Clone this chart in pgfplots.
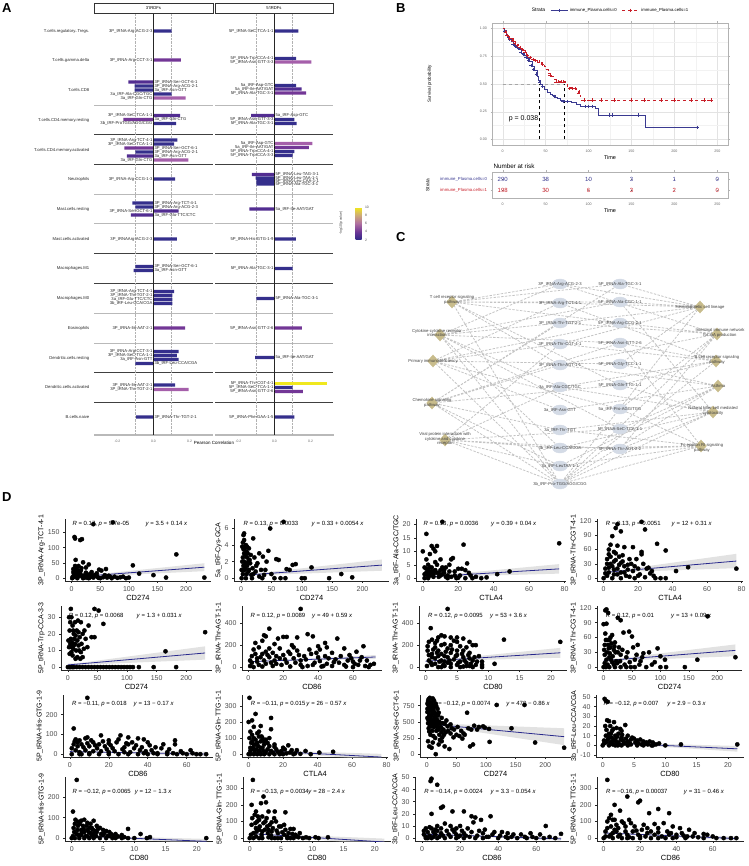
\documentclass[border=0pt]{standalone}
\usepackage{fontspec}
\setmainfont{Liberation Sans}
\usepackage{pgfplots}
\pgfplotsset{compat=1.18}

\definecolor{cA}{RGB}{53,47,140}
\definecolor{cB}{RGB}{82,45,145}
\definecolor{cC}{RGB}{115,55,150}
\definecolor{cD}{RGB}{165,95,170}
\definecolor{cE}{RGB}{240,232,30}
\definecolor{kmblue}{RGB}{58,58,145}
\definecolor{kmred}{RGB}{200,30,40}
\definecolor{fitblue}{RGB}{40,40,140}
\definecolor{nodeblue}{RGB}{212,219,230}
\definecolor{nodetan}{RGB}{200,188,140}
\definecolor{edgegray}{RGB}{196,196,196}

\newcommand{\fs}[2]{\fontsize{#1}{#2}\selectfont}

\pgfplotsset{
  every axis/.append style={/pgf/number format/assume math mode=true},
  facet/.style={
    scale only axis, anchor=north west, width=119pt, height=421pt,
    xmin=-0.33, xmax=0.33, ymin=-435, ymax=-14, clip=false,
    axis x line*=bottom, axis y line*=left,
    x axis line style={gray!55, line width=1.3pt},
    y axis line style={draw=none},
    xtick={-0.2,0,0.2},
    xticklabel style={font=\fs{3.4}{4}, text=black!60, /pgf/number format/.cd, fixed, fixed zerofill, precision=1},
    tick align=outside, major tick length=1.2pt,
    xtick style={gray!55, line width=0.4pt}, ytick style={draw=none},
  },
  bars/.style={xbar, bar width=3.4pt, bar shift=0pt, draw=none, fill=#1},
  lab/.style={only marks, mark=*, mark size=0.01pt, mark options={draw=none, fill=none},
    nodes near coords, point meta=explicit symbolic,
    every node near coord/.append style={anchor=#1, font=\fs{4.2}{5}, text=black!85, inner sep=0.8pt}},
  scat/.style={
    scale only axis, anchor=south west,
    axis x line*=bottom, axis y line*=left,
    axis line style={black!85, line width=0.5pt},
    tick align=outside, major tick length=2pt,
    tick style={black!85, line width=0.5pt},
    ticklabel style={font=\fs{7}{8}, text=black!70},
    xlabel style={font=\fs{7.5}{9}, yshift=3.5pt},
    ylabel style={font=\fs{7}{8}, yshift=-4pt},
  },
  pts/.style={only marks, mark=*, mark size=2.1pt, black},
  band/.style={fill=black!25, fill opacity=0.45, draw=none},
  fit/.style={no marks, fitblue, line width=0.8pt},
  net/.style={at={(300pt,-490pt)}, anchor=south west, scale only axis, width=448pt, height=260pt,
    xmin=300, xmax=748, ymin=-490, ymax=-230, hide axis, clip=false},
}
\tikzset{rtxt/.style={anchor=west, font=\fs{6}{7}, inner sep=0pt},
  nl/.style={font=\fs{4.2}{4.8}, text=black!75, align=center, inner sep=0pt}}

\begin{document}
\begin{tikzpicture}[x=1pt,y=1pt]
\useasboundingbox (0,0) rectangle (748,-866);

% ---------------- panel letters
\node[font=\fs{13}{14}\bfseries, anchor=north west, inner sep=0pt] at (2,-3) {A};
\node[font=\fs{13}{14}\bfseries, anchor=north west, inner sep=0pt] at (396,-3) {B};
\node[font=\fs{13}{14}\bfseries, anchor=north west, inner sep=0pt] at (396,-232) {C};
\node[font=\fs{13}{14}\bfseries, anchor=north west, inner sep=0pt] at (2,-492) {D};

% ================= A =================
\draw[black!80, line width=0.6pt] (94,-3) rectangle (213,-13);
\node[font=\fs{4.2}{5}] at (153.5,-8) {3\textquotesingle tRDFs};
\draw[black!80, line width=0.6pt] (215,-3) rectangle (333,-13);
\node[font=\fs{4.2}{5}] at (274,-8) {5\textquotesingle tRDFs};
\foreach \yy/\cc in {105/gray!55,134.5/black!75,164.5/black!75,194/gray!55,223.5/gray!55,253/black!75,283/black!75,313/gray!55,343/gray!55,372/black!75,402/black!75}{
  \draw[\cc, line width=0.7pt] (94,-\yy) -- (213,-\yy);
  \draw[\cc, line width=0.7pt] (215,-\yy) -- (333,-\yy);
}
\node[font=\fs{4.5}{5}] at (214,-443) {Pearson Correlation};

\begin{axis}[facet, at={(94pt,-14pt)},
  ytick={-31,-60,-90,-120,-150,-179,-209,-239,-268,-298,-328,-358,-387,-417},
  yticklabels={T.cells.regulatory..Tregs., T.cells.gamma.delta, T.cells.CD8, T.cells.CD4.memory.resting, T.cells.CD4.memory.activated, Neutrophils, Mast.cells.resting, Mast.cells.activated, Macrophages.M1, Macrophages.M0, Eosinophils, Dendritic.cells.resting, Dendritic.cells.activated, B.cells.naive},
  yticklabel style={font=\fs{4.2}{5}, text=black!85}]
\draw[gray!60, densely dotted, line width=0.4pt] (axis cs:-0.1,-14) -- (axis cs:-0.1,-435);
\draw[gray!60, densely dotted, line width=0.4pt] (axis cs:0.1,-14) -- (axis cs:0.1,-435);
\addplot[bars=cA] coordinates {(0.10,-31) (-0.105,-86) (-0.105,-90) (0.10,-94) (0.126,-123.5) (0.133,-140) (0.115,-144) (-0.10,-152) (0.12,-179) (-0.117,-203) (-0.10,-207) (0.13,-239) (-0.10,-266.5) (-0.11,-270.5) (0.115,-291.5) (0.105,-295.5) (0.105,-299.5) (0.105,-303.5) (0.14,-351.5) (0.13,-355.5) (0.14,-359.5) (-0.10,-363.5) (0.12,-385) (-0.097,-417)};
\addplot[bars=cB] coordinates {(-0.139,-82) (0.147,-115.5) (-0.148,-156) (0.139,-211) (-0.126,-215)};
\addplot[bars=cC] coordinates {(0.152,-60) (-0.167,-119.5) (-0.161,-148) (0.175,-328)};
\addplot[bars=cD] coordinates {(0.178,-98) (0.194,-160) (0.195,-389.5)};
\draw[black!85, line width=0.6pt] (axis cs:0,-14) -- (axis cs:0,-435);
\addplot[lab=east] coordinates {
 (0,-31) [3P\_tRNA-Arg-ACG-2-3] (0,-60) [3P\_tRNA-Arg-CCT-3-1]
 (0,-94) [3a\_tRF-Ala-CGC/TGC] (0,-98) [3a\_tRF-Gln-CTG]
 (0,-115.5) [3P\_tRNA-SeC-TCA-1-1] (0,-123.5) [3b\_tRF-ProTGG/AGG/CGG]
 (0,-140) [3P\_tRNA-Arg-TCT-4-1] (0,-144) [3P\_tRNA-SeC-TCA-1-1] (0,-160) [3a\_tRF-Gln-CTG]
 (0,-179) [3P\_tRNA-Arg-CCG-1-3] (0,-211) [3P\_tRNA-Ser-GCT-6-1] (0,-239) [3P\_tRNAArg-ACG-2-3]
 (0,-291.5) [3P\_tRNA-Arg-TCT-4-1] (0,-295.5) [3P\_tRNA-Thr-TGT-2-1] (0,-299.5) [3a\_tRF-Glu-TTC/CTC] (0,-303.5) [3b\_tRF-Leu-CCA/CGA]
 (0,-328) [3P\_tRNA-Ile-AAT-2-1]
 (0,-351.5) [3P\_tRNA-Arg-CCT-3-1] (0,-355.5) [3P\_tRNA-SeC-TCA-1-1] (0,-359.5) [3a\_tRF-Asn-GTT]
 (0,-385) [3P\_tRNA-Ile-AAT-2-1] (0,-389.5) [3P\_tRNA-Thr-TGT-2-1]};
\addplot[lab=west] coordinates {
 (0,-82) [3P\_tRNA-Ser-GCT-6-1] (0,-86) [3P\_tRNA-Arg-ACG-2-1] (0,-90) [3a\_tRF-Asn-GTT]
 (0,-119.5) [3a\_tRF-Gln-CTG]
 (0,-148) [3P\_tRNA-Ser-GCT-6-1] (0,-152) [3P\_tRNA-Arg-ACG-2-1] (0,-156) [3a\_tRF-Asn-GTT]
 (0,-203) [3P\_tRNA-Arg-TCT-4-1] (0,-207) [3P\_tRNA-Arg-ACG-2-3] (0,-215) [3a\_tRF-Glu-TTC/CTC]
 (0,-266.5) [3P\_tRNA-Ser-GCT-6-1] (0,-270.5) [3a\_tRF-Asn-GTT]
 (0,-363.5) [3b\_tRF-Leu-CCA/CGA] (0,-417) [3P\_tRNA-Thr-TGT-2-1]};
\end{axis}

\begin{axis}[facet, at={(215pt,-14pt)}, ytick=\empty]
\draw[gray!60, densely dotted, line width=0.4pt] (axis cs:-0.1,-14) -- (axis cs:-0.1,-435);
\draw[gray!60, densely dotted, line width=0.4pt] (axis cs:0.1,-14) -- (axis cs:0.1,-435);
\addplot[bars=cA] coordinates {(0.133,-31) (0.12,-58.5) (0.12,-85.5) (0.11,-119.5) (0.123,-123.5) (0.11,-151.5) (0.10,-155.5) (-0.105,-178) (-0.10,-181) (-0.10,-184) (0.118,-239) (0.10,-268.5) (-0.10,-298.5) (-0.107,-357.5) (0.10,-387.5) (0.11,-417)};
\addplot[bars=cB] coordinates {(0.15,-89) (-0.13,-115.5) (-0.125,-174.5) (-0.139,-209)};
\addplot[bars=cC] coordinates {(0.175,-93) (0.19,-147.5) (0.152,-328) (0.157,-391.5)};
\addplot[bars=cD] coordinates {(0.205,-62) (0.21,-143.5)};
\addplot[bars=cE] coordinates {(0.29,-383.5)};
\draw[black!85, line width=0.6pt] (axis cs:0,-14) -- (axis cs:0,-435);
\addplot[lab=east] coordinates {
 (0,-31) [5P\_tRNA-SeC-TCA-1-1] (0,-58.5) [5P\_tRNA-Trp-CCA-4-1] (0,-62) [5P\_tRNA-Asn-GTT-3-3]
 (0,-85.5) [5a\_tRF-Asp-GTC] (0,-89) [5a\_tRF-Ile-AAT/GAT] (0,-93) [5P\_tRNA-Ala-TGC-3-1]
 (0,-119.5) [5P\_tRNA-Asn-GTT-3-3] (0,-123.5) [5P\_tRNA-Ala-TGC-3-1]
 (0,-143.5) [5a\_tRF-Asp-GTC] (0,-147.5) [5a\_tRF-Ile-AAT/GAT] (0,-151.5) [5P\_tRNA-Trp-CCA-4-1] (0,-155.5) [5P\_tRNA-Trp-CCA-3-3]
 (0,-239) [5P\_tRNA-His-GTG-1-9] (0,-268.5) [5P\_tRNA-Ala-TGC-3-1] (0,-328) [5P\_tRNA-Asn-GTT-2-6]
 (0,-383.5) [5P\_tRNA-Thr-CGT-4-1] (0,-387.5) [5P\_tRNA-SeC-TCA-1-1] (0,-391.5) [5P\_tRNA-Asn-GTT-2-6]
 (0,-417) [5P\_tRNA-Phe-GAA-1-5]};
\addplot[lab=west] coordinates {
 (0,-115.5) [5a\_tRF-Asp-GTC]
 (0,-174.5) [5P\_tRNA-Leu-TAG-3-1] (0,-178) [5P\_tRNA-Leu-TAA-1-1] (0,-181) [5P\_tRNA-Leu-CAA-1-1] (0,-184) [5P\_tRNA-Ala-TGC-3-1]
 (0,-209) [5a\_tRF-Ile-AAT/GAT] (0,-298.5) [5P\_tRNA-Ala-TGC-3-1] (0,-357.5) [5a\_tRF-Ile-AAT/GAT]};
\end{axis}

% colour bar
\node[rotate=90, font=\fs{3.4}{4}, text=black!80] at (341,-223) {-log10(p value)};
\begin{axis}[at={(347pt,-207pt)}, anchor=north west, scale only axis, width=1pt, height=1pt, hide axis,
  xmin=0, xmax=1, ymin=0, ymax=1,
  colormap={pv}{rgb255=(45,40,135) rgb255=(110,55,150) rgb255=(175,110,160) rgb255=(205,170,120) rgb255=(242,234,25)},
  point meta min=2, point meta max=10, colorbar,
  colorbar style={at={(parent axis.north west)}, anchor=north west, width=6pt, height=33pt,
    ytick={2,4,6,8,10}, yticklabel style={font=\fs{3.4}{4}, text=black!70},
    major tick length=1pt, axis line style={draw=none}, tick style={draw=none}}]
\addplot[draw=none] coordinates {(0,0)};
\end{axis}

% ================= B =================
\begin{axis}[at={(492pt,-145pt)}, anchor=south west, scale only axis, width=236pt, height=122pt,
  xmin=-12.5, xmax=262.5, ymin=-0.05, ymax=1.05,
  xtick={0,50,100,150,200,250}, ytick={0,0.25,0.5,0.75,1},
  yticklabel style={/pgf/number format/.cd, fixed, fixed zerofill, precision=2},
  minor x tick num=1, minor y tick num=1, grid=both,
  major grid style={gray!22, line width=0.45pt}, minor grid style={gray!10, line width=0.3pt},
  axis line style={gray!60, line width=0.6pt}, tick style={gray!60}, tick align=outside,
  major tick length=1.5pt, minor tick length=0pt,
  ticklabel style={font=\fs{3.6}{4}, text=black!60},
  xlabel={Time}, xlabel style={font=\fs{5.5}{6}, yshift=4pt},
  ylabel={Survival probability}, ylabel style={font=\fs{4.5}{5}, at={(axis description cs:-0.24,0.5)}},
  legend style={at={(axis description cs:0.5,1)}, anchor=south, yshift=6pt, draw=none, fill=none,
    font=\fs{4.3}{5}, legend columns=-1, /tikz/every even column/.append style={column sep=3pt}}]
\addlegendimage{empty legend}\addlegendentry{\fs{5}{6}Strata}
\addlegendimage{kmblue, line width=0.7pt, mark=+, mark size=1.6pt}\addlegendentry{immune\_Plasma.cells=0}
\addlegendimage{kmred, dashed, line width=0.7pt, mark=+, mark size=1.6pt}\addlegendentry{immune\_Plasma.cells=1}
\addplot[gray!70, dashed, line width=0.6pt, forget plot] coordinates {(0,0.5) (72,0.5)};
\addplot[black, dashed, line width=0.5pt, forget plot] coordinates {(43,0) (43,0.5)};
\addplot[black, dashed, line width=0.5pt, forget plot] coordinates {(72,0) (72,0.5)};
\addplot[kmblue, const plot, line width=0.8pt, forget plot] coordinates {
 (0,1.00) (2,0.98) (4,0.95) (6,0.92) (8,0.90) (10,0.88) (13,0.85) (16,0.83) (19,0.81) (22,0.78)
 (25,0.76) (28,0.73) (31,0.70) (34,0.66) (37,0.62) (40,0.57) (42,0.53) (44,0.50) (46,0.48) (49,0.45)
 (52,0.42) (55,0.41) (58,0.40) (61,0.38) (64,0.37) (67,0.35) (72,0.34) (80,0.33) (86,0.32) (90,0.30)
 (108,0.28) (112,0.22) (166,0.11) (227,0.11)};
\addplot[kmred, const plot, dashed, line width=0.8pt, forget plot] coordinates {
 (0,1.00) (2,0.98) (4,0.96) (6,0.93) (9,0.91) (12,0.88) (15,0.86) (18,0.84) (21,0.82) (24,0.80)
 (27,0.77) (30,0.74) (35,0.72) (40,0.70) (45,0.68) (48,0.66) (50,0.63) (53,0.60) (56,0.57) (60,0.54)
 (63,0.52) (73,0.50) (75,0.47) (82,0.46) (86,0.44) (89,0.40) (91,0.355) (243,0.355)};
\addplot[kmblue, only marks, mark=+, mark size=1.6pt, line width=0.5pt, forget plot] coordinates {
 (2,0.98) (5,0.94) (8,0.90) (12,0.86) (15,0.84) (18,0.82) (21,0.79) (24,0.77) (27,0.74) (30,0.71)
 (33,0.67) (36,0.63) (39,0.59) (43,0.52) (46,0.48) (60,0.39) (70,0.345) (75,0.34) (96,0.30) (100,0.30)
 (104,0.30) (124,0.22) (128,0.22) (158,0.22) (227,0.11)};
\addplot[kmred, only marks, mark=+, mark size=1.6pt, line width=0.5pt, forget plot] coordinates {
 (3,0.97) (5,0.94) (8,0.91) (11,0.89) (14,0.87) (17,0.85) (20,0.83) (23,0.81) (26,0.79) (29,0.76)
 (32,0.74) (35,0.72) (38,0.71) (42,0.70) (46,0.68) (55,0.58) (62,0.52) (65,0.52) (68,0.52) (71,0.52)
 (78,0.46) (81,0.46) (84,0.46) (88,0.42) (95,0.355) (104,0.355) (115,0.355) (130,0.355) (150,0.355)
 (165,0.355) (185,0.355) (200,0.355) (220,0.355) (235,0.355) (243,0.355)};
\node[anchor=west, font=\fs{7}{8}] at (axis cs:3,0.19) {p = 0.038};
\end{axis}

\node[anchor=west, font=\fs{6.3}{7}] at (490,-166) {Number at risk};
\begin{axis}[at={(492pt,-198pt)}, anchor=south west, scale only axis, width=236pt, height=26pt,
  xmin=-12.5, xmax=262.5, ymin=0.32, ymax=2.68, clip=false,
  xtick={0,50,100,150,200,250}, ytick={1,2},
  yticklabels={\textcolor{kmred}{immune\_Plasma.cells=1}, \textcolor{kmblue}{immune\_Plasma.cells=0}},
  yticklabel style={font=\fs{4.3}{5}},
  axis line style={gray!60, line width=0.6pt}, tick style={gray!60}, tick align=outside, major tick length=1.5pt,
  xticklabel style={font=\fs{3.6}{4}, text=black!60},
  xlabel={Time}, xlabel style={font=\fs{5.5}{6}, yshift=4pt},
  ylabel={Strata}, ylabel style={font=\fs{4.8}{5}, at={(axis description cs:-0.25,0.5)}}]
\addplot[only marks, mark=*, mark size=0.01pt, mark options={draw=none, fill=none}, nodes near coords, point meta=explicit symbolic,
  every node near coord/.append style={anchor=center, font=\fs{6}{7}, text=kmblue}] coordinates {
  (0,2) [290] (50,2) [38] (100,2) [10] (150,2) [3] (200,2) [1] (250,2) [0]};
\addplot[only marks, mark=*, mark size=0.01pt, mark options={draw=none, fill=none}, nodes near coords, point meta=explicit symbolic,
  every node near coord/.append style={anchor=center, font=\fs{6}{7}, text=kmred}] coordinates {
  (0,1) [198] (50,1) [30] (100,1) [6] (150,1) [3] (200,1) [2] (250,1) [0]};
\end{axis}

% ================= C =================
\begin{axis}[net, unbounded coords=jump]
\addplot[edgegray, dash pattern=on 2.4pt off 1.4pt, line width=0.8pt] coordinates {
 (452,-302) (560,-284) (nan,nan) (452,-302) (560,-303) (nan,nan) (452,-302) (620,-284) (nan,nan) (452,-302) (620,-302) (nan,nan)
 (452,-302) (620,-323) (nan,nan) (452,-302) (560,-365) (nan,nan) (452,-302) (560,-484) (nan,nan) (452,-302) (620,-385) (nan,nan)
 (440,-335) (560,-284) (nan,nan) (440,-335) (560,-323) (nan,nan) (440,-335) (620,-302) (nan,nan) (440,-335) (620,-343) (nan,nan)
 (440,-335) (560,-387) (nan,nan) (440,-335) (560,-484) (nan,nan) (440,-335) (620,-429) (nan,nan) (440,-335) (560,-448) (nan,nan)
 (433,-361) (560,-303) (nan,nan) (433,-361) (560,-344) (nan,nan) (433,-361) (620,-323) (nan,nan) (433,-361) (620,-364) (nan,nan)
 (433,-361) (560,-410) (nan,nan) (433,-361) (560,-484) (nan,nan) (433,-361) (620,-409) (nan,nan)
 (432,-403) (560,-323) (nan,nan) (432,-403) (560,-365) (nan,nan) (432,-403) (620,-343) (nan,nan) (432,-403) (620,-385) (nan,nan)
 (432,-403) (560,-430) (nan,nan) (432,-403) (560,-484) (nan,nan) (432,-403) (560,-466) (nan,nan) (432,-403) (620,-284) (nan,nan)
 (445,-440) (560,-387) (nan,nan) (445,-440) (560,-448) (nan,nan) (445,-440) (560,-466) (nan,nan) (445,-440) (560,-484) (nan,nan)
 (445,-440) (620,-429) (nan,nan) (445,-440) (620,-449) (nan,nan) (445,-440) (560,-344) (nan,nan)
 (700,-307) (620,-284) (nan,nan) (700,-307) (620,-302) (nan,nan) (700,-307) (560,-284) (nan,nan) (700,-307) (560,-303) (nan,nan)
 (700,-307) (560,-344) (nan,nan) (700,-307) (560,-484) (nan,nan) (700,-307) (620,-364) (nan,nan) (700,-307) (560,-323) (nan,nan)
 (717,-334) (620,-323) (nan,nan) (717,-334) (560,-323) (nan,nan) (717,-334) (560,-365) (nan,nan) (717,-334) (560,-484) (nan,nan)
 (717,-334) (620,-409) (nan,nan) (717,-334) (560,-284) (nan,nan) (717,-334) (620,-449) (nan,nan)
 (716,-361) (620,-343) (nan,nan) (716,-361) (560,-344) (nan,nan) (716,-361) (560,-387) (nan,nan) (716,-361) (560,-484) (nan,nan)
 (716,-361) (620,-385) (nan,nan) (716,-361) (560,-303) (nan,nan)
 (718,-386) (620,-364) (nan,nan) (718,-386) (560,-365) (nan,nan) (718,-386) (560,-410) (nan,nan) (718,-386) (560,-484) (nan,nan)
 (718,-386) (620,-429) (nan,nan) (718,-386) (560,-466) (nan,nan)
 (713,-412) (620,-385) (nan,nan) (713,-412) (560,-387) (nan,nan) (713,-412) (560,-448) (nan,nan) (713,-412) (560,-484) (nan,nan)
 (713,-412) (620,-449) (nan,nan) (713,-412) (560,-430) (nan,nan) (713,-412) (620,-302) (nan,nan)
 (701,-446) (620,-409) (nan,nan) (701,-446) (560,-430) (nan,nan) (701,-446) (560,-466) (nan,nan) (701,-446) (560,-484) (nan,nan)
 (701,-446) (620,-449) (nan,nan) (701,-446) (560,-448) (nan,nan) (701,-446) (620,-343)};
\addplot[only marks, mark=*, mark size=5pt, mark options={xscale=1.5, fill=nodeblue, draw=nodeblue}] coordinates {
 (560,-284) (560,-303) (560,-323) (560,-344) (560,-365) (560,-387) (560,-410) (560,-430) (560,-448) (560,-466) (560,-484)
 (620,-284) (620,-302) (620,-323) (620,-343) (620,-364) (620,-385) (620,-409) (620,-429) (620,-449)};
\addplot[only marks, mark=diamond*, mark size=6pt, mark options={fill=nodetan, draw=nodetan, xscale=1.2}] coordinates {
 (452,-302) (440,-335) (433,-361) (432,-403) (445,-440)
 (700,-307) (717,-334) (716,-361) (718,-386) (713,-412) (701,-446)};
\end{axis}
% labels on top of the nodes
\begin{axis}[net]
\node[nl] at (axis cs:560,-284) {3P\_tRNA-Arg-ACG-2-3};
\node[nl] at (axis cs:560,-303) {3P\_tRNA-Arg-TCT-4-1};
\node[nl] at (axis cs:560,-323) {3P\_tRNA-Thr-TGT-2-1};
\node[nl] at (axis cs:560,-344) {3P\_tRNA-Thr-CGT-4-1};
\node[nl] at (axis cs:560,-365) {3P\_tRNA-Thr-AGT-1-1};
\node[nl] at (axis cs:560,-387) {3a\_tRF-Ala-CGC/TGC};
\node[nl] at (axis cs:560,-410) {3a\_tRF-Asn-GTT};
\node[nl] at (axis cs:560,-430) {3a\_tRF-Thr-TGT};
\node[nl] at (axis cs:560,-448) {3b\_tRF-Leu-CCA/CGA};
\node[nl] at (axis cs:560,-466) {3b\_tRF-LeuTAA-1-1};
\node[nl] at (axis cs:560,-484) {3b\_tRF-Pro-TGG/AGG/CGG};
\node[nl] at (axis cs:620,-284) {5P\_tRNA-Ala-TGC-3-1};
\node[nl] at (axis cs:620,-302) {5P\_tRNA-Ala-CGC-1-1};
\node[nl] at (axis cs:620,-323) {5P\_tRNA-Arg-CCG-2-1};
\node[nl] at (axis cs:620,-343) {5P\_tRNA-Asn-GTT-2-6};
\node[nl] at (axis cs:620,-364) {5P\_tRNA-Gly-TCC-1-1};
\node[nl] at (axis cs:620,-385) {5P\_tRNA-Gln-TTG-1-1};
\node[nl] at (axis cs:620,-409) {5a\_tRF-Pro-AGG/TGG};
\node[nl] at (axis cs:620,-429) {5P\_tRNA-SeC-TCA-1-1};
\node[nl] at (axis cs:620,-449) {5P\_tRNA-Thr-AGT-2-2};
\node[nl] at (axis cs:452,-300) {T cell receptor signaling\\pathway};
\node[nl] at (axis cs:437,-333) {Cytokine-cytokine receptor\\interaction};
\node[nl] at (axis cs:433,-361) {Primary immunodeficiency};
\node[nl] at (axis cs:432,-403) {Chemokine signaling\\pathway};
\node[nl] at (axis cs:445,-439) {Viral protein interaction with\\cytokine and cytokine\\receptor};
\node[nl] at (axis cs:700,-307) {Hematopoietic cell lineage};
\node[nl] at (axis cs:720,-333) {Intestinal immune network\\for IgA production};
\node[nl] at (axis cs:717,-360) {B cell receptor signaling\\pathway};
\node[nl] at (axis cs:718,-386) {Asthma};
\node[nl] at (axis cs:713,-411) {Natural killer cell mediated\\cytotoxicity};
\node[nl] at (axis cs:702,-448) {Fc epsilon RI signaling\\pathway};
\end{axis}

% ================= D =================
% row 1
\begin{axis}[scat, at={(65pt,-581pt)}, width=146pt, height=62pt, xmin=-11.6, xmax=243.6, ymin=-9.25, ymax=194,
  xtick={0,50,100,150,200}, ytick={0,50,100,150}, xlabel={CD274}, ylabel={3P\_tRNA-Arg-TCT-4-1}]
\addplot[pts] coordinates {(5,135)(6,130)(15,125)(18,128)(38,177)(72,183)(183,78)(107,42)(7,60)(20,52)(30,45)(12,40)(25,35)(9,30)(52,25)(60,30)(48,28)(3,20)(35,20)(15,15)(118,15)(143,10)(40,10)(65,8)(28,12)(20,8)(5,10)(10,5)(2,5)(45,5)(55,3)(75,5)(85,3)(90,5)(100,2)(1,0)(10,0)(20,0)(30,0)(50,0)(70,0)(95,0)(165,2)(232,2)(4,15)(8,22)(14,8)(25,18)(35,6)
 (3,3)(6,6)(9,12)(12,18)(16,25)(19,4)(22,2)(26,6)(32,3)(38,2)(42,8)(47,1)(58,10)(62,2)(68,4)(80,1)(3,30)(6,40)(11,24)(17,33)(23,9)(27,1)(33,14)(44,16)};
\addplot[band] coordinates {(0,0.5)(20,4.3)(232,23)(232,49)(20,8.3)(0,6.5)} -- cycle;
\addplot[fit] coordinates {(0,3.5)(232,35.98)};
\node[rtxt] at (rel axis cs:0.05,0.92) {\textit{R} = 0.17, \textit{p} = 9.7e-05};
\node[rtxt] at (rel axis cs:0.55,0.92) {\textit{y} = 3.5 + 0.14 \textit{x}};
\end{axis}

\begin{axis}[scat, at={(234pt,-581pt)}, width=155pt, height=62pt, xmin=-11.6, xmax=243.6, ymin=-0.34, ymax=7.14,
  xtick={0,50,100,150,200}, ytick={0,2,4,6}, xlabel={CD274}, ylabel={5a\_tRF-Cys-GCA}]
\addplot[pts] coordinates {(48,6.0)(70,6.8)(5,5.4)(4,5.2)(3,4.3)(8,4.0)(20,4.8)(13,3.6)(30,3.0)(45,3.3)(36,2.6)(58,2.3)(62,2.2)(85,1.6)(90,1.7)(75,1.1)(80,1.0)(116,1.3)(165,0.5)(183,0.1)(145,0)(100,0)(105,0)(65,0)(50,0.5)(40,1.0)(25,1.5)(10,2.5)(15,1.8)(5,3.0)(2,2.0)(7,1.2)(12,0.8)(20,0.5)(30,0.2)(3,0.5)(1,0)(8,0)(18,0)(35,0)(55,0)(73,0)(6,3.6)(9,3.2)(2,3.8)(14,2.2)(4,1.5)
 (1,1)(2,1)(3,2.5)(4,3.5)(5,2)(6,1)(7,2.8)(8,1.8)(9,0.5)(10,1.5)(11,3)(12,2)(13,1)(16,2.8)(17,0.4)(19,1.2)(22,2.5)(24,0.8)(27,1.8)(33,1)(38,0.4)(42,2)(5,4.6)(10,3.8)};
\addplot[band] coordinates {(0,0.18)(20,0.34)(232,0.9)(232,2.26)(20,0.54)(0,0.48)} -- cycle;
\addplot[fit] coordinates {(0,0.33)(232,1.58)};
\node[rtxt] at (rel axis cs:0.06,0.92) {\textit{R} = 0.13, \textit{p} = 0.0033};
\node[rtxt] at (rel axis cs:0.50,0.92) {\textit{y} = 0.33 + 0.0054 \textit{x}};
\end{axis}

\begin{axis}[scat, at={(416pt,-581pt)}, width=150pt, height=62pt, xmin=-3.85, xmax=80.85, ymin=-1.05, ymax=22.05,
  xtick={0,20,40,60,80}, ytick={0,5,10,15,20}, xlabel={CTLA4}, ylabel={3a\_tRF-Ala-CGC/TGC}]
\addplot[pts] coordinates {(0,10)(2,16.5)(11,21)(77,13)(23,12.5)(5,12)(8,12)(6,11)(7,10)(4,9)(10,7)(17,7.5)(16,7)(25,5.5)(3,5)(5,4)(8,5)(12,3)(15,2.5)(20,3.5)(22,3.5)(26,2)(42,1.5)(49,2.5)(36,0.3)(30,0.5)(2,2)(4,1)(6,0.5)(10,1)(18,1)(28,0)(33,0)(1,0)(14,0)(3,3)(9,2)(13,0.5)(20,0.2)(24,0)(6,2.5)(11,4)(7,6)(1,4)
 (1,1.5)(2,3.5)(3,1)(4,2)(4,4)(5,2.5)(6,1.5)(7,3)(8,2)(9,0.5)(10,3)(11,1.5)(12,2)(13,4)(14,1)(15,5)(16,0.5)(18,2.5)(19,0)(21,1)(24,3)(27,1)(2,7)(3,0)};
\addplot[band] coordinates {(0,0.0)(7,0.42)(77,1.7)(77,5.25)(7,0.92)(0,0.8)} -- cycle;
\addplot[fit] coordinates {(0,0.39)(77,3.47)};
\node[rtxt] at (rel axis cs:0.05,0.92) {\textit{R} = 0.13, \textit{p} = 0.0036};
\node[rtxt] at (rel axis cs:0.50,0.92) {\textit{y} = 0.39 + 0.04 \textit{x}};
\end{axis}

\begin{axis}[scat, at={(597pt,-581pt)}, width=146pt, height=62pt, xmin=-3.85, xmax=80.85, ymin=-5.9, ymax=123.9,
  xtick={0,20,40,60,80}, ytick={0,30,60,90,120}, xlabel={CTLA4}, ylabel={3P\_tRNA-Thr-CGT-4-1}]
\addplot[pts] coordinates {(22,118)(8,113)(7,105)(24,102)(10,98)(5,88)(31,72)(36,58)(4,70)(8,68)(12,65)(17,65)(22,55)(22,50)(6,55)(3,50)(9,45)(15,40)(2,40)(4,30)(10,32)(14,28)(18,25)(25,20)(28,15)(26,22)(42,15)(49,23)(77,20)(30,0)(33,0)(36,0)(20,5)(12,12)(6,18)(1,10)(2,5)(8,8)(15,3)(24,2)(0,0)(5,0)(10,0)(18,0)(6,35)(11,48)(3,22)
 (1,20)(2,30)(3,12)(4,45)(5,25)(6,8)(7,38)(8,20)(9,28)(10,12)(11,35)(12,25)(13,5)(14,18)(16,30)(17,15)(19,40)(20,20)(21,8)(23,30)(27,10)(29,5)(3,60)(7,52)};
\addplot[band] coordinates {(0,9)(8,12.5)(77,21)(77,51)(8,16.5)(0,15)} -- cycle;
\addplot[fit] coordinates {(0,12)(77,35.87)};
\node[rtxt] at (rel axis cs:0.06,0.92) {\textit{R} = 0.13, \textit{p} = 0.0051};
\node[rtxt] at (rel axis cs:0.51,0.92) {\textit{y} = 12 + 0.31 \textit{x}};
\end{axis}

% row 2
\begin{axis}[scat, at={(61pt,-670pt)}, width=151pt, height=64pt, xmin=-11.6, xmax=243.6, ymin=-1.75, ymax=36.75,
  xtick={0,50,100,150,200}, ytick={0,10,20,30}, xlabel={CD274}, ylabel={5P\_tRNA-Trp-CCA-3-3}]
\addplot[pts] coordinates {(5,35)(45,35)(52,34)(60,26)(35,25)(17,28)(12,27)(4,27)(22,27)(8,25)(3,22)(15,22)(25,20)(10,20)(20,18)(30,17)(40,18)(45,18)(5,17)(7,15)(12,14)(18,13)(2,12)(9,11)(14,10)(22,9)(3,8)(8,7)(16,6)(25,6)(165,9.5)(232,21)(0,0)(10,0)(30,0)(60,0)(90,0)(100,0)(110,0)(145,0)(183,0)(20,0)(45,0)(75,0)(6,12)(11,17)(18,21)
 (2,30)(6,30)(9,22)(13,19)(16,16)(19,10)(23,14)(27,11)(1,16)(4,14)(6,9)(10,13)(13,5)(21,5)(28,22)(33,12)(5,0)(15,0)(25,0)(35,0)(40,0)(50,0)(55,0)(65,0)(70,0)(80,0)(85,0)(95,0)(105,0)(120,0)(3,0)(8,0)};
\addplot[band] coordinates {(0,0.5)(20,1.3)(232,4.5)(232,12.5)(20,2.5)(0,2.1)} -- cycle;
\addplot[fit] coordinates {(0,1.3)(232,8.49)};
\node[rtxt] at (rel axis cs:0.05,0.85) {\textit{R} = 0.12, \textit{p} = 0.0068};
\node[rtxt] at (rel axis cs:0.50,0.85) {\textit{y} = 1.3 + 0.031 \textit{x}};
\end{axis}

\begin{axis}[scat, at={(242pt,-670pt)}, width=140pt, height=64pt, xmin=-3.65, xmax=76.65, ymin=-26.5, ymax=556.5,
  xtick={0,20,40,60}, ytick={0,200,400}, xlabel={CD86}, ylabel={3P\_tRNA-Thr-AGT-1-1}]
\addplot[pts] coordinates {(30,530)(12,350)(9,290)(10,280)(20,275)(22,275)(17,260)(34,300)(37,280)(28,270)(51,260)(44,220)(8,240)(4,220)(15,210)(25,200)(40,190)(45,180)(55,170)(66,190)(62,140)(6,180)(3,160)(18,170)(28,150)(35,160)(48,130)(58,110)(68,60)(70,20)(2,100)(8,120)(12,90)(20,110)(26,80)(32,100)(40,90)(50,70)(60,50)(65,90)(5,50)(10,30)(15,60)(22,40)(30,20)(38,40)(45,30)(55,20)(1,10)(3,0)(8,5)(14,10)(24,5)(42,5)(60,0)(67,10)(72,30)(10,140)(14,130)(24,120)(30,60)(36,120)(44,100)(52,40)(5,80)(18,80)(16,30)(34,10)(48,10)(57,60)(63,20)
 (2,40)(4,120)(6,20)(7,90)(9,60)(11,110)(13,40)(16,100)(19,20)(21,70)(23,140)(27,40)(29,110)(31,0)(33,70)(37,20)(39,130)(41,55)(43,10)(46,80)(49,45)(53,100)(56,5)(59,80)(61,30)(64,60)(69,0)(1,60)(12,170)(26,180)(41,160)};
\addplot[band] coordinates {(0,43)(15,53)(73,74)(73,110)(15,61)(0,55)} -- cycle;
\addplot[fit] coordinates {(0,49)(73,92.07)};
\node[rtxt] at (rel axis cs:0.06,0.85) {\textit{R} = 0.12, \textit{p} = 0.0089};
\node[rtxt] at (rel axis cs:0.50,0.85) {\textit{y} = 49 + 0.59 \textit{x}};
\end{axis}

\begin{axis}[scat, at={(419pt,-670pt)}, width=148pt, height=64pt, xmin=-1.075, xmax=22.575, ymin=-26.5, ymax=556.5,
  xtick={0,5,10,15,20}, ytick={0,200,400}, xlabel={CD80}, ylabel={3P\_tRNA-Thr-AGT-1-1}]
\addplot[pts] coordinates {(3.5,530)(0.8,355)(1,250)(2,270)(2.5,290)(3,280)(4,270)(5,270)(6,260)(4.5,240)(1.5,220)(0.5,230)(7,230)(7.5,200)(8,200)(6.5,180)(5.5,190)(12.5,250)(21.5,230)(11,30)(9,0)(9,20)(9,50)(8.5,100)(0.3,150)(1,120)(2,150)(3,100)(4,130)(5,110)(6,90)(7,80)(0.5,60)(1.5,80)(2.5,60)(3.5,40)(4.5,70)(5.5,50)(6.5,40)(7.5,60)(0.2,10)(1,20)(2,0)(3,10)(4,0)(5,20)(6,5)(7,10)(8,20)(1.5,180)(2.5,200)(3.5,170)(4,200)(5,150)(6,150)(7,130)(2,100)(3,50)(4,30)(1,90)
 (0.5,110)(0.8,40)(1.2,160)(1.5,30)(1.8,130)(2.2,50)(2.5,120)(2.8,20)(3.2,140)(3.5,90)(3.8,60)(4.2,160)(4.8,100)(5.2,40)(5.8,120)(6.2,60)(6.8,110)(7.2,30)(7.8,90)(8.2,50)(0.3,190)(1.8,240)(3,210)(5,230)(6.5,10)(2.5,0)(5.5,0)(7.5,0)};
\addplot[band] coordinates {(0,45)(2,55)(21.5,85)(21.5,175)(2,65)(0,61)} -- cycle;
\addplot[fit] coordinates {(0,53)(21.5,130.4)};
\node[rtxt] at (rel axis cs:0.06,0.85) {\textit{R} = 0.12, \textit{p} = 0.0095};
\node[rtxt] at (rel axis cs:0.48,0.85) {\textit{y} = 53 + 3.6 \textit{x}};
\end{axis}

\begin{axis}[scat, at={(597pt,-670pt)}, width=145pt, height=64pt, xmin=-11.6, xmax=243.6, ymin=-5.9, ymax=123.9,
  xtick={0,50,100,150,200}, ytick={0,30,60,90,120}, xlabel={CD274}, ylabel={3P\_tRNA-Thr-CGT-4-1}]
\addplot[pts] coordinates {(3,115)(5,117)(8,110)(25,100)(30,95)(183,103)(45,72)(35,70)(5,88)(0,87)(15,65)(10,55)(20,50)(50,62)(60,45)(70,28)(80,30)(95,38)(100,22)(108,15)(3,68)(8,45)(12,40)(18,35)(25,30)(30,25)(40,20)(55,15)(65,12)(90,10)(2,25)(5,15)(10,20)(15,10)(22,12)(110,0)(143,0)(165,15)(232,20)(100,0)(75,0)(40,0)(20,0)(0,0)(55,0)(85,5)(6,55)(12,60)(2,45)
 (1,35)(2,8)(4,55)(6,30)(7,5)(9,38)(11,28)(13,15)(14,48)(16,22)(18,5)(19,42)(21,30)(24,8)(27,40)(29,12)(33,35)(37,5)(42,30)(46,10)(52,40)(58,25)(63,5)(68,20)(4,0)(10,0)(30,0)(48,0)};
\addplot[band] coordinates {(0,10)(20,12.8)(232,22)(232,46)(20,16.8)(0,16)} -- cycle;
\addplot[fit] coordinates {(0,13)(232,33.88)};
\node[rtxt] at (rel axis cs:0.06,0.85) {\textit{R} = 0.12, \textit{p} = 0.01};
\node[rtxt] at (rel axis cs:0.51,0.85) {\textit{y} = 13 + 0.09 \textit{x}};
\end{axis}

% row 3
\begin{axis}[scat, at={(63pt,-757pt)}, width=150pt, height=62pt, xmin=-3.5, xmax=73.5, ymin=-14.25, ymax=299.25,
  xtick={0,20,40,60}, ytick={0,100,200,300}, xlabel={CD86}, ylabel={5P\_tRNA-His-GTG-1-9}]
\addplot[pts] coordinates {(9,285)(2,130)(3,75)(2.5,65)(5,70)(8,80)(9,85)(12,60)(16,95)(20,70)(26,95)(30,85)(24,60)(35,80)(38,75)(40,60)(48,50)(54,70)(54,50)(62,20)(65,0)(70,0)(45,5)(58,5)(30,50)(15,50)(6,50)(4,40)(10,40)(18,40)(22,30)(28,35)(33,30)(36,20)(42,20)(50,10)(3,20)(8,20)(12,15)(20,10)(28,10)(38,5)(1,0)(6,0)(15,0)(25,0)(35,0)(45,0)(55,0)(14,30)(20,55)(32,60)(44,35)
 (1,30)(2,50)(4,60)(5,10)(7,35)(9,55)(10,5)(11,70)(13,45)(16,15)(17,65)(19,25)(21,45)(23,15)(25,75)(27,25)(29,55)(31,10)(34,45)(37,35)(39,15)(41,45)(43,5)(47,30)(51,25)(53,5)(57,15)(60,0)(63,5)(67,0)(5,0)(10,0)(20,0)(30,0)(40,0)(50,0)};
\addplot[band] coordinates {(0,8)(15,7.5)(70,-11)(70,13)(15,13.5)(0,18)} -- cycle;
\addplot[fit] coordinates {(0,13)(70,1.1)};
\node[rtxt] at (rel axis cs:0.06,0.86) {\textit{R} = −0.11, \textit{p} = 0.018};
\node[rtxt] at (rel axis cs:0.47,0.86) {\textit{y} = 13 − 0.17 \textit{x}};
\end{axis}

\begin{axis}[scat, at={(242pt,-757pt)}, width=146pt, height=62pt, xmin=-3.85, xmax=80.85, ymin=-17.5, ymax=367.5,
  xtick={0,20,40,60,80}, ytick={0,100,200,300}, xlabel={CTLA4}, ylabel={5P\_tRNA-Gln-TTG-1-1}]
\addplot[pts] coordinates {(0.5,350)(0,200)(4,250)(2,210)(3,170)(7,175)(13,225)(13,155)(1,140)(5,130)(6,110)(8,100)(10,90)(3,100)(2,80)(5,70)(9,60)(12,50)(15,45)(20,40)(23,55)(25,25)(28,25)(33,20)(41,10)(49,15)(1,40)(3,30)(6,20)(10,15)(14,10)(18,5)(22,5)(30,2)(36,0)(0,0)(5,0)(12,0)(20,0)(26,0)(8,40)(4,60)(7,80)(11,70)(16,30)
 (0.5,100)(1,20)(1.5,70)(2,120)(2.5,40)(3,60)(3.5,10)(4,90)(4.5,30)(5.5,50)(6,140)(6.5,10)(7,40)(7.5,110)(8.5,20)(9,80)(9.5,5)(11,30)(12,100)(13,20)(15,60)(17,15)(19,20)(21,30)(24,10)(27,5)(1,0)(3,0)(7,0)(9,0)(15,0)(18,0)};
\addplot[band] coordinates {(0,20)(8,17.5)(77,-38)(77,2)(8,25.5)(0,32)} -- cycle;
\addplot[fit] coordinates {(0,26)(77,-17.89)};
\node[rtxt] at (rel axis cs:0.06,0.86) {\textit{R} = −0.11, \textit{p} = 0.015};
\node[rtxt] at (rel axis cs:0.44,0.86) {\textit{y} = 26 − 0.57 \textit{x}};
\end{axis}

\begin{axis}[scat, at={(420pt,-757pt)}, width=151pt, height=62pt, xmin=-11.6, xmax=243.6, ymin=-43.5, ymax=913.5,
  xtick={0,50,100,150,200}, ytick={0,250,500,750}, xlabel={CD274}, ylabel={3P\_tRNA-Ser-GCT-6-1}]
\addplot[pts] coordinates {(5,870)(10,860)(2,820)(8,800)(15,780)(3,750)(12,740)(18,700)(6,680)(1,650)(20,640)(10,620)(4,600)(14,580)(25,560)(2,540)(8,520)(16,500)(22,480)(30,470)(35,430)(5,450)(12,420)(3,400)(18,380)(9,360)(25,340)(40,320)(50,300)(45,260)(55,280)(62,320)(68,640)(70,400)(75,380)(88,420)(95,430)(98,410)(105,390)(118,760)(143,400)(165,760)(183,180)(232,100)(106,190)(73,120)(78,150)(6,300)(14,250)(2,200)(10,180)(20,150)(8,100)(15,0)(30,120)(38,80)(4,120)(25,200)(60,240)(7,720)(13,650)(1,560)(9,470)(17,430)(4,350)(11,280)(28,380)(33,520)(42,400)(21,300)
 (1,700)(3,650)(5,600)(7,580)(9,650)(11,700)(13,560)(15,620)(17,540)(19,600)(21,500)(23,420)(27,480)(29,300)(2,480)(4,500)(6,550)(8,430)(10,520)(12,480)(14,440)(16,360)(18,460)(20,380)(22,220)(24,410)(26,260)(32,340)(36,360)(40,460)(46,380)(52,420)(58,360)(64,300)(80,440)(85,380)(6,800)(12,830)(3,850)(16,740)(9,760)(1,780)};
\addplot[band] coordinates {(0,445)(15,439)(232,140)(232,400)(15,475)(0,495)} -- cycle;
\addplot[fit] coordinates {(0,470)(232,270.5)};
\node[rtxt] at (rel axis cs:0.08,0.86) {\textit{R} = −0.12, \textit{p} = 0.0074};
\node[rtxt] at (rel axis cs:0.57,0.86) {\textit{y} = 470 − 0.86 \textit{x}};
\end{axis}

\begin{axis}[scat, at={(596pt,-757pt)}, width=148pt, height=62pt, xmin=-1.075, xmax=22.575, ymin=-12, ymax=52,
  xtick={0,5,10,15,20}, ytick={-10,0,10,20,30,40,50}, xlabel={CD80}, ylabel={3b\_tRF-Leu-CCA/CGA}]
\addplot[pts] coordinates {(0.3,48)(0.5,46)(0.8,45)(0.7,26)(1,25)(1.2,20)(1.8,24)(2.2,18)(3,15)(3.6,21)(2.8,17)(2.5,12)(1.5,15)(0.5,10)(1,8)(2,10)(3,8)(4,10)(4.5,6)(5,7)(5.5,5)(6,6)(6.5,4)(7,3)(7.5,4)(8,3)(9,2)(0.2,5)(1.5,4)(2.5,3)(3.5,2)(4.5,1)(5.5,0)(6.5,0)(10,0)(12.5,1)(21.5,1)(0,0)(1,0)(2,0)(3,0)(4,0)(8,0)(0.4,20)(1.3,12)(2,6)(3.2,5)
 (0.2,2)(0.5,3)(0.8,6)(1,12)(1.2,3)(1.4,8)(1.6,1)(1.8,6)(2.1,4)(2.3,9)(2.6,1)(2.9,6)(3.1,11)(3.4,3)(3.7,7)(4,4)(4.3,2)(4.7,8)(5.2,3)(5.7,2)(6.2,1)(6.8,2)(7.2,1)(7.8,0)(8.5,1)(0.6,16)(1.7,17)(2.4,0)};
\addplot[band] coordinates {(0,2.1)(2,1.8)(21.5,-6.5)(21.5,-0.6)(2,2.8)(0,3.7)} -- cycle;
\addplot[fit] coordinates {(0,2.9)(21.5,-3.55)};
\node[rtxt] at (rel axis cs:0.05,0.86) {\textit{R} = −0.12, \textit{p} = 0.007};
\node[rtxt] at (rel axis cs:0.48,0.86) {\textit{y} = 2.9 − 0.3 \textit{x}};
\end{axis}

% row 4
\begin{axis}[scat, at={(65pt,-841pt)}, width=148pt, height=64pt, xmin=-1.075, xmax=22.575, ymin=-14.25, ymax=299.25,
  xtick={0,5,10,15,20}, ytick={0,100,200,300}, xlabel={CD80}, ylabel={5P\_tRNA-His-GTG-1-9}]
\addplot[pts] coordinates {(0.8,285)(0.2,130)(0.5,70)(1,80)(1.5,85)(2,90)(2.5,75)(3,70)(3.5,85)(4,60)(4.5,50)(5,40)(5.5,35)(6,30)(7,20)(8,15)(9,45)(11,20)(12.5,5)(21.5,0)(0.3,50)(1,60)(1.5,40)(2,30)(2.5,40)(3,25)(3.5,20)(4,30)(5,15)(6,10)(7,5)(0.2,10)(0.8,20)(1.5,15)(2.5,10)(3.5,5)(4.5,0)(6.5,0)(8,0)(9,0)(0,0)(1.2,0)(2.8,0)(1.8,60)(3.2,50)
 (0.4,30)(0.6,90)(0.9,40)(1.1,15)(1.3,70)(1.6,25)(1.9,45)(2.2,10)(2.4,60)(2.7,30)(2.9,50)(3.2,15)(3.4,40)(3.7,35)(3.9,10)(4.2,45)(4.7,20)(5.2,25)(5.7,10)(6.3,20)(6.8,12)(7.4,8)(8.4,5)(0.5,0)(2,0)(3.5,0)(5.5,0)(7,0)(10,0)(12,0)};
\addplot[band] coordinates {(0,7)(2,6.4)(21.5,-28)(21.5,-4)(2,12.4)(0,17)} -- cycle;
\addplot[fit] coordinates {(0,12)(21.5,-15.95)};
\node[rtxt] at (rel axis cs:0.05,0.77) {\textit{R} = −0.12, \textit{p} = 0.0065};
\node[rtxt] at (rel axis cs:0.47,0.77) {\textit{y} = 12 − 1.3 \textit{x}};
\end{axis}

\begin{axis}[scat, at={(243pt,-841pt)}, width=148pt, height=64pt, xmin=-1.075, xmax=22.575, ymin=-17.5, ymax=367.5,
  xtick={0,5,10,15,20}, ytick={0,100,200,300}, xlabel={CD80}, ylabel={5P\_tRNA-Gln-TTG-1-1}]
\addplot[pts] coordinates {(0.5,350)(0.3,200)(2.2,250)(2.6,215)(1.8,210)(1,160)(2,130)(3,160)(4,160)(5.7,155)(0.8,140)(1.5,110)(2.5,100)(3.5,95)(4.2,100)(5,70)(5.5,80)(6.5,55)(7,55)(8,30)(9,5)(10.5,5)(12.5,5)(0.3,80)(1,60)(1.5,50)(2,40)(3,50)(3.5,40)(4.5,30)(5.5,20)(6,10)(7.5,10)(0.2,20)(1,10)(2,0)(3,5)(4,0)(5,0)(0,0)(6.5,0)(8.5,0)(1.2,100)(2.8,70)
 (0.4,120)(0.6,30)(0.9,90)(1.1,40)(1.3,130)(1.6,70)(1.9,20)(2.2,90)(2.4,50)(2.7,120)(2.9,30)(3.2,80)(3.4,15)(3.7,60)(3.9,120)(4.3,45)(4.7,70)(5.2,35)(5.7,50)(6.2,30)(6.8,25)(7.3,20)(7.8,5)(0.6,0)(1.5,0)(3.5,0)(4.5,0)(6,0)(7,0)(9.5,0)(11,0)};
\addplot[band] coordinates {(0,21)(2,19.2)(21.5,-44)(21.5,-3)(2,27.2)(0,35)} -- cycle;
\addplot[fit] coordinates {(0,28)(21.5,-23.6)};
\node[rtxt] at (rel axis cs:0.05,0.77) {\textit{R} = −0.13, \textit{p} = 0.0034};
\node[rtxt] at (rel axis cs:0.44,0.77) {\textit{y} = 28 − 2.4 \textit{x}};
\end{axis}

\begin{axis}[scat, at={(415pt,-841pt)}, width=154pt, height=64pt, xmin=-3.675, xmax=77.2, ymin=-2.4, ymax=50.4,
  xtick={0,20,40,60}, ytick={0,10,20,30,40,50}, xlabel={CD86}, ylabel={3b\_tRF-Leu-CCA/CGA}]
\addplot[pts] coordinates {(5,49)(4.5,47)(8,44)(5,20)(10,25)(11,26)(16,22)(22,22)(26,18)(28,17)(36,18)(27,13)(31,15)(4,9)(2,8)(8,10)(12,12)(15,10)(18,8)(20,10)(24,8)(30,6)(33,7)(38,5)(42,5)(45,4)(48,3)(52,3)(57,4)(62,3)(65,10)(70,0)(73,3.5)(1,3)(6,5)(10,4)(14,3)(20,2)(25,1)(35,1)(50,0)(60,0)(3,0)(12,0)(28,0)(40,0)(7,7)(17,5)(22,4)
 (1,6)(2,1)(3,5)(4,2)(5,8)(6,1)(7,3)(8,6)(9,1)(10,8)(11,2)(13,6)(15,1)(16,7)(18,3)(19,1)(21,6)(23,2)(26,5)(29,2)(32,4)(34,1)(37,3)(41,2)(44,1)(47,1)(54,1)(58,1)(64,0)(67,1)(2,0)(5,0)(8,0)(18,0)(22,0)(32,0)(45,0)(55,0)};
\addplot[band] coordinates {(0,2.7)(12,2.3)(73,-2.1)(73,0.8)(12,3.0)(0,3.9)} -- cycle;
\addplot[fit] coordinates {(0,3.3)(73,-0.64)};
\node[rtxt] at (rel axis cs:0.06,0.77) {\textit{R} = −0.14, \textit{p} = 0.0024};
\node[rtxt] at (rel axis cs:0.49,0.77) {\textit{y} = 3.3 − 0.054 \textit{x}};
\end{axis}

\begin{axis}[scat, at={(597pt,-841pt)}, width=147pt, height=64pt, xmin=-3.675, xmax=77.2, ymin=-17.5, ymax=367.5,
  xtick={0,20,40,60}, ytick={0,100,200,300}, xlabel={CD86}, ylabel={5P\_tRNA-Gln-TTG-1-1}]
\addplot[pts] coordinates {(2,350)(13,250)(19,215)(20,225)(6,200)(9,165)(30,175)(36,150)(25,150)(3,120)(5,110)(10,100)(15,90)(22,80)(28,85)(33,90)(38,70)(42,60)(47,50)(50,30)(55,25)(57,20)(60,10)(66,0)(70,0)(73,0)(2,60)(6,50)(12,40)(18,45)(24,30)(30,35)(36,20)(44,15)(1,10)(4,20)(8,10)(14,5)(20,10)(26,0)(34,0)(40,5)(0,0)(10,0)(16,0)(7,80)(4,140)
 (1,40)(2,100)(3,10)(4,70)(5,30)(6,110)(7,40)(8,60)(9,20)(11,90)(12,70)(13,20)(14,110)(16,40)(17,70)(19,20)(21,50)(23,10)(24,60)(26,40)(28,20)(30,60)(32,10)(35,40)(37,30)(40,20)(43,30)(46,10)(49,10)(52,5)(5,0)(13,0)(20,0)(30,0)(38,0)(45,0)(55,0)(62,0)};
\addplot[band] coordinates {(0,25)(12,22)(73,-14)(73,9)(12,29)(0,37)} -- cycle;
\addplot[fit] coordinates {(0,31)(73,-2.58)};
\node[rtxt] at (rel axis cs:0.06,0.77) {\textit{R} = −0.16, \textit{p} = 0.00037};
\node[rtxt] at (rel axis cs:0.59,0.77) {\textit{y} = 31 − 0.46 \textit{x}};
\end{axis}

\end{tikzpicture}
\end{document}
